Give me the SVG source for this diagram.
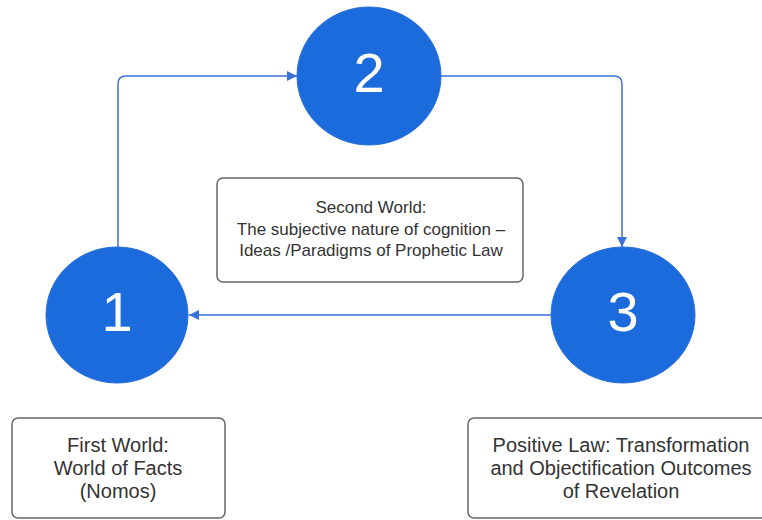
<svg xmlns="http://www.w3.org/2000/svg" width="762" height="520" viewBox="0 0 762 520">
<style>
.circ{fill:#1b6bdc;stroke:#2a70d8;stroke-width:1}
.num{font-family:"Liberation Sans",Arial,sans-serif;font-size:56px;fill:#ffffff;text-anchor:middle}
.box{fill:#ffffff;stroke:#666666;stroke-width:1.5}
.lbl{font-family:"Liberation Sans",Arial,sans-serif;fill:#333333;text-anchor:middle}
.conn{fill:none;stroke:#3a72d9;stroke-width:1.5}
</style>
<defs>
<marker id="arr" viewBox="0 0 10 10" refX="10" refY="5" markerWidth="10" markerHeight="10" markerUnits="userSpaceOnUse" orient="auto">
<path d="M0,0 L10,5 L0,10 z" fill="#3a72d9"/>
</marker>
</defs>
<rect width="762" height="520" fill="#ffffff"/>
<g id="connectors">
<path class="conn" d="M118,247 V84 Q118,76 126,76 H297" marker-end="url(#arr)"/>
<path class="conn" d="M441,76 H614 Q622,76 622,84 V247" marker-end="url(#arr)"/>
<path class="conn" d="M551,315 H189" marker-end="url(#arr)"/>
</g>
<g id="node2">
<ellipse class="circ" cx="369" cy="76" rx="72" ry="69"/>
<text class="num" x="369" y="92">2</text>
</g>
<g id="node1">
<ellipse class="circ" cx="117" cy="315" rx="71" ry="68"/>
<text class="num" x="117" y="331">1</text>
</g>
<g id="node3">
<ellipse class="circ" cx="623" cy="315" rx="72" ry="68"/>
<text class="num" x="623" y="331">3</text>
</g>
<g id="second-world">
<rect class="box" x="217" y="178" width="306" height="104" rx="6"/>
<text class="lbl" font-size="17" x="371" y="213">Second World:</text>
<text class="lbl" font-size="17" x="371" y="235">The subjective nature of cognition –</text>
<text class="lbl" font-size="17" x="371" y="256">Ideas /Paradigms of Prophetic Law</text>
</g>
<g id="first-world">
<rect class="box" x="12" y="418" width="213" height="100" rx="6"/>
<text class="lbl" font-size="20" x="118" y="452">First World:</text>
<text class="lbl" font-size="20" x="118" y="475">World of Facts</text>
<text class="lbl" font-size="20" x="118" y="498">(Nomos)</text>
</g>
<g id="positive-law">
<rect class="box" x="468" y="418" width="300" height="100" rx="6"/>
<text class="lbl" font-size="20" x="621" y="452">Positive Law: Transformation</text>
<text class="lbl" font-size="20" x="621" y="475">and Objectification Outcomes</text>
<text class="lbl" font-size="20" x="621" y="498">of Revelation</text>
</g>
</svg>
